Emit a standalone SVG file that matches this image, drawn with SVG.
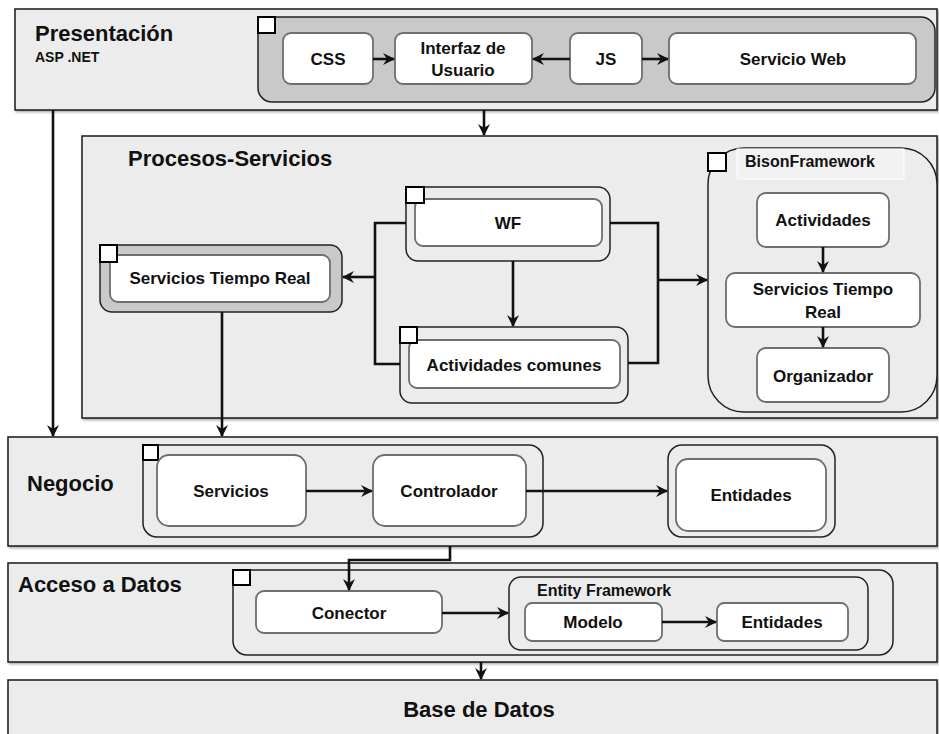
<svg xmlns="http://www.w3.org/2000/svg" width="939" height="734" viewBox="0 0 939 734">
  <defs>
    <marker id="arrow" viewBox="0 0 12 12" refX="11" refY="6" markerWidth="12" markerHeight="12" markerUnits="userSpaceOnUse" orient="auto">
      <path d="M0,0 L12,6 L0,12 L4,6 z" fill="#111"/>
    </marker>
    <filter id="shadow" x="-5%" y="-5%" width="110%" height="115%">
      <feDropShadow dx="1.5" dy="1.5" stdDeviation="1" flood-color="#000" flood-opacity="0.35"/>
    </filter>
  </defs>
  <style>
    text { font-family: "Liberation Sans", Arial, sans-serif; font-weight: bold; fill: #111; }
    .layer { fill: #ececec; stroke: #1a1a1a; stroke-width: 1.5; filter: url(#shadow); }
    .group { fill: #ececec; stroke: #222; stroke-width: 1.5; }
    .group-gray { fill: #c9c9c9; stroke: #222; stroke-width: 1.5; }
    .node { fill: #fff; stroke: #6e6e6e; stroke-width: 1.8; }
    .tag { fill: #fff; stroke: #000; stroke-width: 2; }
    .title { font-size: 22px; }
    .lbl { font-size: 17px; text-anchor: middle; }
    .sub { font-size: 16px; }
    .conn { fill: none; stroke: #111; stroke-width: 2.6; }
    .conn-a { fill: none; stroke: #111; stroke-width: 2.6; marker-end: url(#arrow); }
  </style>

  <!-- Layers -->
  <g id="layer-presentacion">
    <rect class="layer" x="15" y="9" width="922" height="101"/>
    <text class="title" x="35" y="41">Presentación</text>
    <text x="35" y="62" font-size="14">ASP .NET</text>
  </g>
  <g id="layer-procesos">
    <rect class="layer" x="82" y="136" width="855" height="282"/>
    <text class="title" x="128" y="166">Procesos-Servicios</text>
  </g>
  <g id="layer-negocio">
    <rect class="layer" x="8" y="437" width="929" height="109"/>
    <text class="title" x="27" y="491">Negocio</text>
  </g>
  <g id="layer-acceso">
    <rect class="layer" x="8" y="563" width="929" height="99"/>
    <text class="title" x="18" y="592">Acceso a Datos</text>
  </g>
  <g id="layer-base">
    <rect class="layer" x="8" y="680" width="929" height="60"/>
    <text class="title" x="479" y="717" text-anchor="middle">Base de Datos</text>
  </g>

  <!-- Presentation group -->
  <g id="grp-presentacion">
    <rect class="group-gray" x="258" y="17" width="677" height="85" rx="14"/>
    <rect class="tag" x="258" y="17" width="17" height="16"/>
  </g>
  <g id="node-css">
    <rect class="node" x="283" y="33" width="90" height="51" rx="8"/>
    <text class="lbl" x="328" y="65">CSS</text>
  </g>
  <g id="node-interfaz">
    <rect class="node" x="395" y="33" width="137" height="51" rx="8"/>
    <text class="lbl" x="463" y="54">Interfaz de</text>
    <text class="lbl" x="463" y="76">Usuario</text>
  </g>
  <g id="node-js">
    <rect class="node" x="570" y="33" width="72" height="51" rx="8"/>
    <text class="lbl" x="606" y="65">JS</text>
  </g>
  <g id="node-servicio-web">
    <rect class="node" x="669" y="33" width="247" height="51" rx="8"/>
    <text class="lbl" x="793" y="65">Servicio Web</text>
  </g>

  <!-- Processes / services -->
  <g id="node-wf">
    <rect class="group" x="406" y="187" width="204" height="74" rx="12"/>
    <rect class="node" x="415" y="199" width="187" height="47" rx="8"/>
    <rect class="tag" x="406" y="187" width="18" height="16"/>
    <text class="lbl" x="508" y="229">WF</text>
  </g>
  <g id="node-servicios-tiempo-real">
    <rect class="group-gray" x="100" y="245" width="242" height="67" rx="12"/>
    <rect class="node" x="110" y="255" width="220" height="47" rx="8"/>
    <rect class="tag" x="100" y="245" width="17" height="17"/>
    <text class="lbl" x="220" y="284">Servicios Tiempo Real</text>
  </g>
  <g id="node-actividades-comunes">
    <rect class="group" x="400" y="327" width="228" height="76" rx="12"/>
    <rect class="node" x="409" y="340" width="211" height="48" rx="8"/>
    <rect class="tag" x="400" y="327" width="17" height="16"/>
    <text class="lbl" x="514" y="371">Actividades comunes</text>
  </g>
  <g id="grp-bison">
    <rect class="group" x="708" y="148" width="229" height="264" rx="36"/>
    <rect x="737" y="149" width="167" height="30" fill="#f2f2f2" stroke="#fff" stroke-width="1"/>
    <rect class="tag" x="708" y="153" width="18" height="18"/>
    <text class="sub" x="745" y="167">BisonFramework</text>
  </g>
  <g id="node-actividades">
    <rect class="node" x="757" y="193" width="132" height="54" rx="9"/>
    <text class="lbl" x="823" y="226">Actividades</text>
  </g>
  <g id="node-bison-str">
    <rect class="node" x="726" y="273" width="194" height="54" rx="9"/>
    <text class="lbl" x="823" y="295">Servicios Tiempo</text>
    <text class="lbl" x="823" y="318">Real</text>
  </g>
  <g id="node-organizador">
    <rect class="node" x="757" y="348" width="132" height="54" rx="9"/>
    <text class="lbl" x="823" y="382">Organizador</text>
  </g>

  <!-- Business -->
  <g id="grp-negocio">
    <rect class="group" x="143" y="445" width="400" height="92" rx="14"/>
    <rect class="tag" x="143" y="445" width="15" height="15"/>
  </g>
  <g id="node-servicios">
    <rect class="node" x="157" y="455" width="149" height="71" rx="12"/>
    <text class="lbl" x="231" y="497">Servicios</text>
  </g>
  <g id="node-controlador">
    <rect class="node" x="373" y="455" width="153" height="71" rx="12"/>
    <text class="lbl" x="449" y="497">Controlador</text>
  </g>
  <g id="node-entidades-negocio">
    <rect class="group" x="668" y="445" width="167" height="92" rx="14"/>
    <rect class="node" x="676" y="459" width="150" height="72" rx="12"/>
    <text class="lbl" x="751" y="501">Entidades</text>
  </g>

  <!-- Data access -->
  <g id="grp-acceso">
    <rect class="group" x="233" y="570" width="660" height="85" rx="14"/>
    <rect class="tag" x="233" y="570" width="17" height="15"/>
  </g>
  <g id="node-conector">
    <rect class="node" x="256" y="591" width="186" height="42" rx="8"/>
    <text class="lbl" x="349" y="619">Conector</text>
  </g>
  <g id="grp-entity-framework">
    <rect class="group" x="509" y="577" width="359" height="73" rx="12"/>
    <text class="sub" x="537" y="596">Entity Framework</text>
  </g>
  <g id="node-modelo">
    <rect class="node" x="525" y="603" width="137" height="38" rx="7"/>
    <text class="lbl" x="593" y="628">Modelo</text>
  </g>
  <g id="node-entidades-datos">
    <rect class="node" x="717" y="603" width="131" height="38" rx="7"/>
    <text class="lbl" x="782" y="628">Entidades</text>
  </g>

  <!-- Connectors -->
  <g id="connectors">
    <line class="conn-a" x1="373" y1="59" x2="394" y2="59"/>
    <line class="conn-a" x1="570" y1="59" x2="533" y2="59"/>
    <line class="conn-a" x1="642" y1="59" x2="668" y2="59"/>
    <line class="conn-a" x1="484" y1="110" x2="484" y2="135"/>
    <line class="conn-a" x1="53" y1="110" x2="53" y2="436"/>

    <polyline class="conn" points="406,223 375,223 375,364 400,364"/>
    <line class="conn-a" x1="375" y1="277" x2="343" y2="277"/>
    <line class="conn-a" x1="513" y1="261" x2="513" y2="326"/>
    <polyline class="conn" points="610,223 658,223 658,363 628,363"/>
    <line class="conn-a" x1="658" y1="280" x2="707" y2="280"/>
    <line class="conn-a" x1="823" y1="247" x2="823" y2="272"/>
    <line class="conn-a" x1="823" y1="327" x2="823" y2="347"/>
    <line class="conn-a" x1="222" y1="312" x2="222" y2="436"/>

    <line class="conn-a" x1="306" y1="491" x2="372" y2="491"/>
    <line class="conn-a" x1="526" y1="491" x2="667" y2="491"/>
    <polyline class="conn-a" points="450,546 450,560 349,560 349,590"/>

    <line class="conn-a" x1="442" y1="613" x2="508" y2="613"/>
    <line class="conn-a" x1="662" y1="622" x2="716" y2="622"/>
    <line class="conn-a" x1="481" y1="662" x2="481" y2="679"/>
  </g>
</svg>
